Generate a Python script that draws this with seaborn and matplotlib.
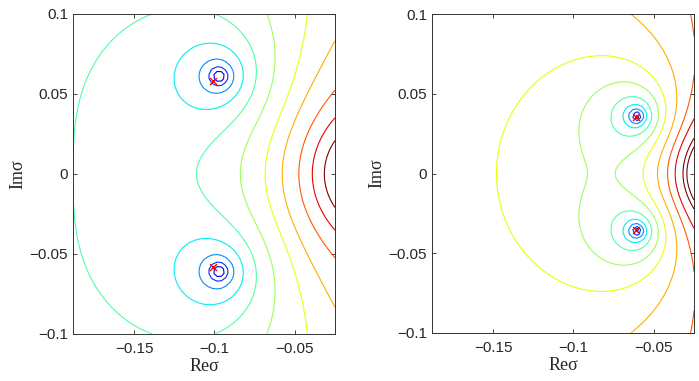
import numpy as np
import matplotlib
matplotlib.use("Agg")
import matplotlib.pyplot as plt
import seaborn as sns

re_lim = (-0.188, -0.025)
im_lim = (-0.1, 0.1)
re_ticks = [-0.15, -0.1, -0.05]
re_ticklabels = ["\u22120.15", "\u22120.1", "\u22120.05"]
im_ticks = [-0.1, -0.05, 0, 0.05, 0.1]
im_ticklabels = ["\u22120.1", "\u22120.05", "0", "0.05", "0.1"]

# left panel: zero pair, real pole, drift and contour levels (log|D|)
zero_left = complex(-0.097, 0.061)
pole_left = -0.0035
pole_order_left = 1.908
drift_left = 1.177
levels_left = [-3.806, -3.179, -2.596, -1.993, -1.419, -0.837, -0.259, 0.242, 0.818, 1.367, 1.950]
mark_left_re = [-0.1006, -0.1006]
mark_left_im = [0.058, -0.058]

# right panel
zero_right = complex(-0.0605, 0.036)
pole_right = -0.0060
pole_order_right = 1.727
drift_right = 1.529
levels_right = [-4.657, -4.002, -3.406, -2.953, -2.474, -1.988, -1.572, -1.116, -0.697, -0.324, 0.110, 0.349]
mark_right_re = [-0.061, -0.061]
mark_right_im = [0.0354, -0.0354]


def log_abs_d(S, z, p, order, drift):
    return (np.log(np.abs(S - z)) + np.log(np.abs(S - np.conj(z)))
            + drift * S.real - order * np.log(np.abs(S - p)))


sns.set_style("ticks")
plt.rcParams["font.family"] = ["Liberation Sans", "DejaVu Sans"]

fig = plt.figure(figsize=(6.99, 3.81), dpi=100)
ax1 = fig.add_axes([0.1044, 0.1234, 0.3748, 0.84])
ax2 = fig.add_axes([0.618, 0.1260, 0.3748, 0.837])

# coarse grid, like the original solver output
re = np.linspace(re_lim[0], re_lim[1], 61)
im = np.linspace(im_lim[0], im_lim[1], 75)
X, Y = np.meshgrid(re, im)
S = X + 1j * Y

panels = [
    (ax1, zero_left, pole_left, pole_order_left, drift_left, levels_left, mark_left_re, mark_left_im),
    (ax2, zero_right, pole_right, pole_order_right, drift_right, levels_right, mark_right_re, mark_right_im),
]
for ax, z, p, order, drift, levels, mre, mim in panels:
    F = log_abs_d(S, z, p, order, drift)
    n = len(levels)
    colors = plt.cm.jet(np.clip(0.08 + 0.092 * np.arange(n), 0, 1))
    ax.contour(X, Y, F, levels=levels, colors=colors, linewidths=0.8)
    sns.scatterplot(x=mre, y=mim, ax=ax, marker="x", color="red", s=25, linewidth=1, zorder=5)
    ax.set_xlim(re_lim)
    ax.set_ylim(im_lim)
    ax.set_xticks(re_ticks)
    ax.set_xticklabels(re_ticklabels)
    ax.set_yticks(im_ticks)
    ax.set_yticklabels(im_ticklabels)
    ax.tick_params(direction="in", top=True, right=True, labelsize=11, length=3, width=0.6)
    ax.tick_params(axis="x", pad=6)
    for sp in ax.spines.values():
        sp.set_linewidth(0.7)
        sp.set_color("#333333")
    ax.set_xlabel("Re\u03c3", family="Liberation Serif", fontsize=13, labelpad=1)
    ax.set_ylabel("Im\u03c3", family="Liberation Serif", fontsize=13, labelpad=2)

fig.savefig("out.png", dpi=100)
